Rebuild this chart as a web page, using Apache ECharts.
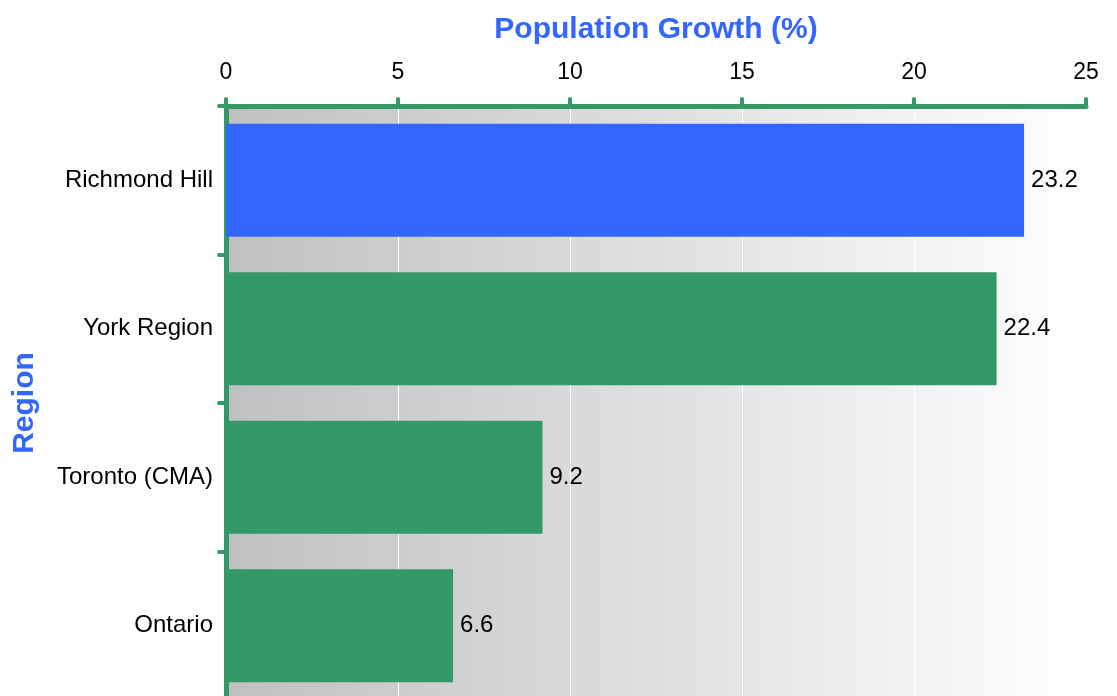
<!DOCTYPE html>
<html>
<head>
<meta charset="utf-8">
<script src="https://cdn.jsdelivr.net/npm/echarts@6/dist/echarts.min.js"></script>
<style>html,body{margin:0;padding:0;background:#fff;}#main{width:1117px;height:696px;}</style>
</head>
<body>
<div id="main"></div>
<script>
var categories = ['Richmond Hill', 'York Region', 'Toronto (CMA)', 'Ontario'];
var growth = [23.2, 22.4, 9.2, 6.6];
var xTicks = [0, 5, 10, 15, 20, 25];
var highlightCategory = 'Richmond Hill';

var chart = echarts.init(document.getElementById('main'));
var green = '#339966';
var blue = '#3366ff';
var font = '"Liberation Sans", Arial, Helvetica, sans-serif';

chart.setOption({
  animation: false,
  backgroundColor: '#ffffff',
  grid: {
    left: 226, right: 31, top: 106, height: 594,
    outerBoundsMode: 'none', containLabel: false,
    show: true, borderWidth: 0,
    backgroundColor: {
      type: 'linear', x: 0, y: 0, x2: 1, y2: 0,
      colorStops: [
        {offset: 0, color: '#c0c0c0'},
        {offset: 1, color: '#ffffff'}
      ]
    }
  },
  xAxis: {
    type: 'value', position: 'top',
    min: xTicks[0], max: xTicks[xTicks.length - 1], interval: 5,
    name: 'Population Growth (%)', nameLocation: 'middle', nameGap: 61,
    nameTextStyle: {color: blue, fontSize: 30, fontWeight: 'bold', fontFamily: font},
    axisLine: {show: true, lineStyle: {color: green, width: 5, cap: 'round'}},
    axisTick: {show: true, length: 7, lineStyle: {color: green, width: 4, cap: 'round'}},
    axisLabel: {color: '#000', fontSize: 23, fontFamily: font, margin: 22},
    splitLine: {show: true, lineStyle: {color: '#ffffff', width: 1}}
  },
  yAxis: {
    type: 'category', data: categories, inverse: true,
    name: 'Region', nameLocation: 'middle', nameGap: 186, nameRotate: 90,
    nameTextStyle: {color: blue, fontSize: 30, fontWeight: 'bold', fontFamily: font},
    axisLine: {show: true, lineStyle: {color: green, width: 5, cap: 'round'}},
    axisTick: {show: true, length: 7, lineStyle: {color: green, width: 4, cap: 'round'}},
    axisLabel: {color: '#000', fontSize: 24, fontFamily: font, margin: 13},
    splitLine: {show: false}
  },
  series: [{
    type: 'bar',
    data: growth.map(function (v, i) {
      return {value: v, itemStyle: {color: categories[i] === highlightCategory ? blue : green}};
    }),
    barCategoryGap: '24%',
    label: {show: true, position: 'right', distance: 7, color: '#000', fontSize: 24, fontFamily: font}
  }]
});
</script>
</body>
</html>
